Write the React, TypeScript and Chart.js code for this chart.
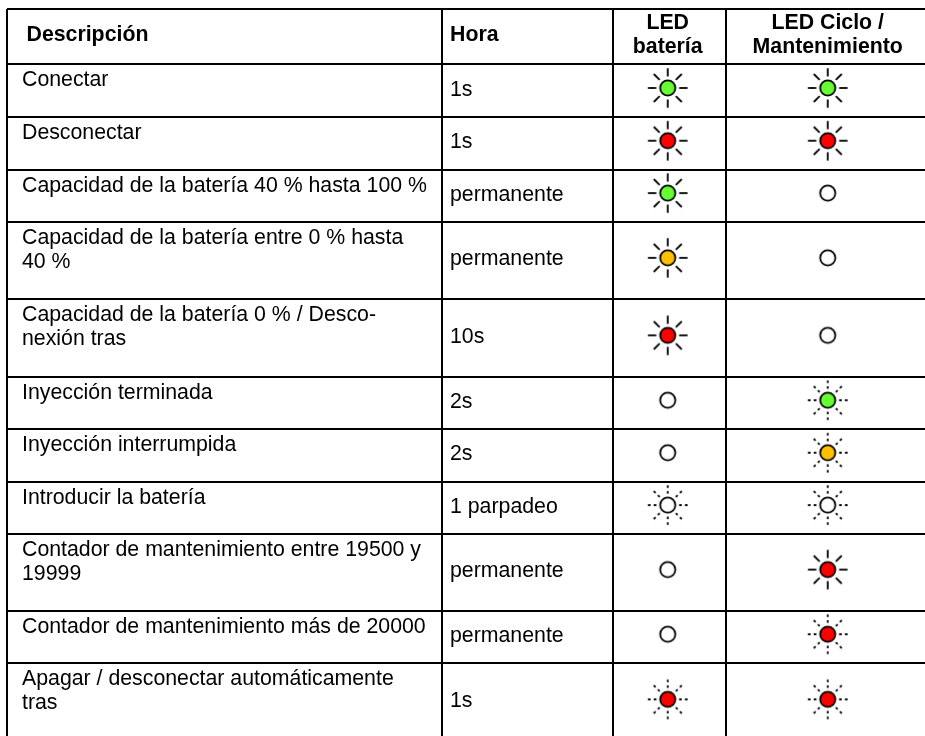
import React, { useEffect, useRef } from "react";
import { Chart, registerables } from "chart.js";

Chart.register(...registerables);

// ---- table content ----
const headerDescription = "Descripción";
const headerTime = "Hora";
const headerBattery = ["LED", "batería"];
const headerCycle = ["LED Ciclo /", "Mantenimiento"];

const descriptions = [
  ["Conectar"],
  ["Desconectar"],
  ["Capacidad de la batería 40 % hasta 100 %"],
  ["Capacidad de la batería entre 0 % hasta", "40 %"],
  ["Capacidad de la batería 0 % / Desco-", "nexión tras"],
  ["Inyección terminada"],
  ["Inyección interrumpida"],
  ["Introducir la batería"],
  ["Contador de mantenimiento entre 19500 y", "19999"],
  ["Contador de mantenimiento más de 20000"],
  ["Apagar / desconectar automáticamente", "tras"],
];
const times = ["1s", "1s", "permanente", "permanente", "10s", "2s", "2s", "1 parpadeo", "permanente", "permanente", "1s"];

const batteryColor = ["green", "red", "green", "amber", "red", "off", "off", "off", "off", "off", "red"];
const batteryRays = ["solid", "solid", "solid", "solid", "solid", "none", "none", "dotted", "none", "none", "dotted"];
const cycleColor = ["green", "red", "off", "off", "off", "green", "amber", "off", "red", "red", "red"];
const cycleRays = ["solid", "solid", "none", "none", "none", "dotted", "dotted", "dotted", "solid", "dotted", "dotted"];

// ---- layout (scale units are canvas pixels) ----
const W = 925;
const H = 736;
const LEFT = 7;
const TOP = 9;
const columnLines = [7, 441.5, 612.7, 726.3];
const rowLines = [9, 64, 117, 169.5, 221.7, 299, 376.7, 428.7, 481.7, 533.5, 610.7, 662.7, 741];
const ledColumns = [667.7, 827.7];
const ledLift = 2.5;
const FONT = '"Liberation Sans", Arial, sans-serif';
const SIZE = 21.3;

const ledFill: Record<string, string> = { green: "#66ff33", red: "#ff0000", amber: "#ffc000", off: "#ffffff" };

const rowCentre = (i: number) => (rowLines[i + 1] + rowLines[i + 2]) / 2 - ledLift;

function ledIcon(color: string, rays: string) {
  const c = document.createElement("canvas");
  c.width = 44;
  c.height = 44;
  const g = c.getContext("2d")!;
  g.translate(22, 22);
  g.strokeStyle = "#000";
  if (rays !== "none") {
    g.lineWidth = 1.8;
    g.setLineDash(rays === "dotted" ? [2.6, 3.2, 2.6] : []);
    for (let k = 0; k < 8; k++) {
      const a = (k * Math.PI) / 4;
      g.beginPath();
      g.moveTo(Math.cos(a) * 19.8, Math.sin(a) * 19.8);
      g.lineTo(Math.cos(a) * 11.4, Math.sin(a) * 11.4);
      g.stroke();
    }
    g.setLineDash([]);
  }
  g.beginPath();
  g.arc(0, 0, 7.6, 0, Math.PI * 2);
  g.fillStyle = ledFill[color];
  g.fill();
  g.lineWidth = 1.8;
  g.stroke();
  return c;
}

const tableText = {
  id: "tableText",
  afterDatasetsDraw(chart: any) {
    const { ctx, scales } = chart;
    const px = (v: number) => scales.x.getPixelForValue(v);
    const py = (v: number) => scales.y.getPixelForValue(v);
    ctx.save();
    ctx.fillStyle = "#000";
    ctx.textBaseline = "alphabetic";
    ctx.font = `bold ${SIZE}px ${FONT}`;
    ctx.textAlign = "left";
    ctx.fillText(headerDescription, px(26.5), py(41));
    ctx.fillText(headerTime, px(450), py(41));
    ctx.textAlign = "center";
    headerBattery.forEach((t, i) => ctx.fillText(t, px(ledColumns[0]), py(29 + i * 24)));
    headerCycle.forEach((t, i) => ctx.fillText(t, px(ledColumns[1]), py(29 + i * 24)));
    ctx.textAlign = "left";
    ctx.font = `${SIZE}px ${FONT}`;
    descriptions.forEach((lines, r) => {
      lines.forEach((t, i) => ctx.fillText(t, px(22), py(rowLines[r + 1] + 22 + i * 24)));
    });
    times.forEach((t, r) => ctx.fillText(t, px(450), py(rowCentre(r) + 7.5)));
    ctx.restore();
  },
};

export default function App() {
  const ref = useRef<HTMLCanvasElement>(null);
  useEffect(() => {
    const rows = times.map((_, i) => i);
    const chart = new Chart(ref.current!, {
      type: "scatter",
      data: {
        datasets: [
          {
            label: "LED batería",
            data: rows.map((r) => ({ x: ledColumns[0], y: rowCentre(r) })),
            pointStyle: rows.map((r) => ledIcon(batteryColor[r], batteryRays[r])),
            pointRadius: 20,
            clip: false,
          },
          {
            label: "LED Ciclo / Mantenimiento",
            data: rows.map((r) => ({ x: ledColumns[1], y: rowCentre(r) })),
            pointStyle: rows.map((r) => ledIcon(cycleColor[r], cycleRays[r])),
            pointRadius: 20,
            clip: false,
          },
        ],
      } as any,
      options: {
        animation: false,
        responsive: false,
        layout: { autoPadding: false, padding: { left: LEFT, top: TOP, right: 0, bottom: 0 } },
        plugins: { legend: { display: false }, tooltip: { enabled: false } },
        events: [],
        scales: {
          x: {
            type: "linear",
            min: LEFT,
            max: W,
            border: { display: false },
            grid: { color: "#000", lineWidth: 2, drawTicks: false },
            ticks: { display: false },
            afterBuildTicks: (s: any) => {
              s.ticks = columnLines.map((value) => ({ value }));
            },
          },
          y: {
            type: "linear",
            reverse: true,
            min: TOP,
            max: H,
            border: { display: false },
            grid: { color: "#000", lineWidth: 2, drawTicks: false },
            ticks: { display: false },
            afterBuildTicks: (s: any) => {
              s.ticks = rowLines.filter((v) => v <= H).map((value) => ({ value }));
            },
          },
        },
      } as any,
      plugins: [tableText],
    });
    return () => chart.destroy();
  }, []);
  return (
    <canvas
      ref={ref}
      width={W}
      height={H}
      style={{ position: "absolute", left: 0, top: 0, display: "block", background: "#fff" }}
    />
  );
}
